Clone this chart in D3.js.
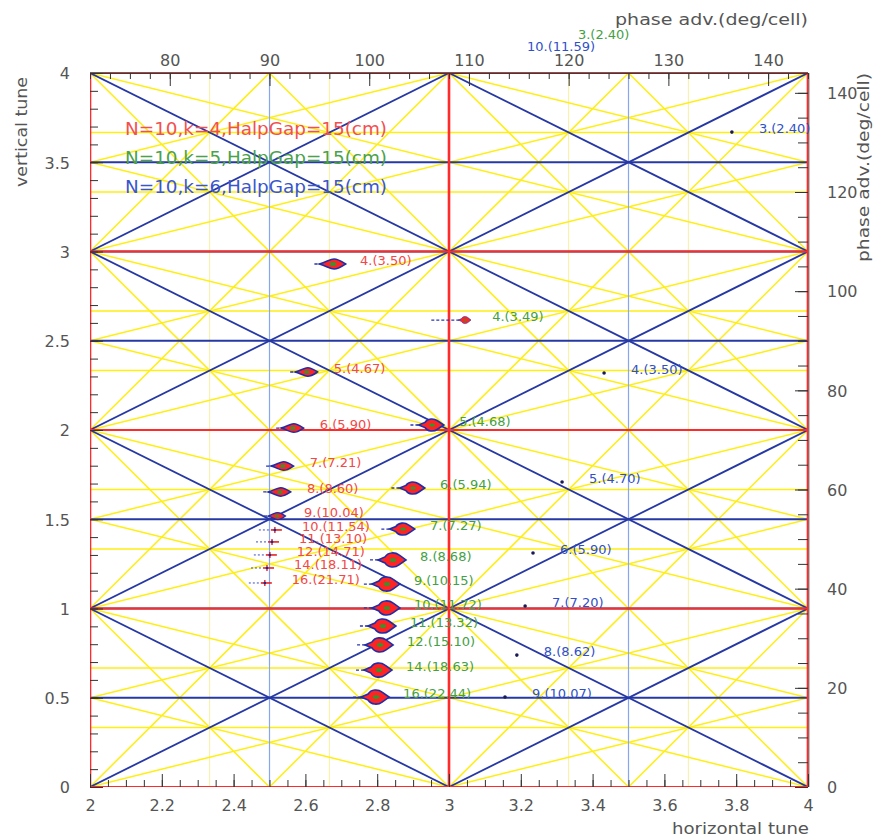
<!DOCTYPE html>
<html><head><meta charset="utf-8">
<script src="https://cdn.jsdelivr.net/npm/d3@7"></script>
<style>body{margin:0;background:#fff;} svg{display:block;}</style>
</head><body><svg id="c" width="874" height="839"></svg>
<script>
// ---------------- data ----------------
const xTickValues = [2, 2.2, 2.4, 2.6, 2.8, 3, 3.2, 3.4, 3.6, 3.8, 4];
const yTickValues = [0, 0.5, 1, 1.5, 2, 2.5, 3, 3.5, 4];
const topTickValues = [80, 90, 100, 110, 120, 130, 140];
const rightTickValues = [0, 20, 40, 60, 80, 100, 120, 140];

const legendLabels = ["N=10,k=4,HalpGap=15(cm)", "N=10,k=5,HalpGap=15(cm)", "N=10,k=6,HalpGap=15(cm)"];

// k=4 (red)
const k4Labels = ["4.(3.50)","5.(4.67)","6.(5.90)","7.(7.21)","8.(8.60)","9.(10.04)","10.(11.54)","11.(13.10)","12.(14.71)","14.(18.11)","16.(21.71)"];
const k4Qx = [2.677, 2.604, 2.565, 2.537, 2.529, 2.521, 2.515, 2.507, 2.501, 2.493, 2.487];
const k4Qy = [2.930, 2.325, 2.011, 1.798, 1.653, 1.518, 1.440, 1.373, 1.300, 1.227, 1.143];

// k=5 (green)
const k5Labels = ["3.(2.40)","4.(3.49)","5.(4.68)","6.(5.94)","7.(7.27)","8.(8.68)","9.(10.15)","10.(11.72)","11.(13.32)","12.(15.10)","14.(18.63)","16.(22.44)"];
const k5Qx = [3.284, 3.045, 2.953, 2.900, 2.872, 2.844, 2.827, 2.827, 2.816, 2.808, 2.805, 2.797];
const k5Qy = [4.196, 2.616, 2.028, 1.675, 1.445, 1.272, 1.137, 1.003, 0.902, 0.796, 0.655, 0.504];

// k=6 (blue)
const k6Labels = ["3.(2.40)","4.(3.50)","5.(4.70)","6.(5.90)","7.(7.20)","8.(8.62)","9.(10.07)","10.(11.59)"];
const k6Qx = [3.788, 3.432, 3.315, 3.234, 3.212, 3.189, 3.156, 3.142];
const k6Qy = [3.669, 2.319, 1.709, 1.311, 1.014, 0.739, 0.504, 4.129];

// resonance lines m*Qx + n*Qy = integer
const order3Coeffs = [[3,0],[0,3],[2,1],[2,-1],[1,2],[1,-2]];
const order2Coeffs = [[2,0],[0,2],[1,1],[1,-1]];
const order1Coeffs = [[1,0],[0,1]];

// ---------------- drawing ----------------
const FONT = "DejaVu Sans, sans-serif";
const svg = d3.select("#c");
const x = d3.scaleLinear().domain([2, 4]).range([90, 808]);
const y = d3.scaleLinear().domain([0, 4]).range([787, 73]);
const xTop = d3.scaleLinear().domain([72, 144]).range([90, 808]);
const yRight = d3.scaleLinear().domain([0, 144]).range([787, 73]);

svg.append("defs").append("clipPath").attr("id", "plotclip")
  .append("rect").attr("x", x(2)).attr("y", y(4)).attr("width", x(4) - x(2)).attr("height", y(0) - y(4));

function segments(m, n) {
  const [x0, x1] = x.domain(), [y0, y1] = y.domain();
  const vals = [[x0,y0],[x0,y1],[x1,y0],[x1,y1]].map(([a, b]) => m * a + n * b);
  const pmin = Math.ceil(Math.min(...vals) - 1e-9), pmax = Math.floor(Math.max(...vals) + 1e-9);
  const out = [];
  for (let p = pmin; p <= pmax; p++) {
    const pts = [];
    if (n !== 0) for (const xx of [x0, x1]) { const yy = (p - m * xx) / n; if (yy >= y0 - 1e-9 && yy <= y1 + 1e-9) pts.push([xx, yy]); }
    if (m !== 0) for (const yy of [y0, y1]) { const xx = (p - n * yy) / m; if (xx >= x0 - 1e-9 && xx <= x1 + 1e-9) pts.push([xx, yy]); }
    const u = [];
    pts.forEach(q => { if (!u.some(v => Math.abs(v[0]-q[0]) < 1e-9 && Math.abs(v[1]-q[1]) < 1e-9)) u.push(q); });
    if (u.length >= 2) out.push({ m, n, p, a: u[0], b: u[1] });
  }
  return out;
}

function styleFor(order, m, n) {
  if (order === 3) return n === 0 ? { c: "#f7efa0", w: 1 } : { c: "#ffee10", w: 1.5 };
  if (order === 2) return n === 0 ? { c: "#86a6ee", w: 1.2 } : { c: "#2638a4", w: 1.8 };
  return n === 0 ? { c: "#ff2a2a", w: 2.6 } : { c: "#ff2a2a", w: 2 };
}

const gLines = svg.append("g").attr("clip-path", "url(#plotclip)");
function drawFamily(order, coeffs) {
  coeffs.forEach(([m, n]) => {
    const st = styleFor(order, m, n);
    segments(m, n).forEach(s => {
      gLines.append("line")
        .attr("x1", x(s.a[0])).attr("y1", y(s.a[1]))
        .attr("x2", x(s.b[0])).attr("y2", y(s.b[1]))
        .attr("stroke", st.c).attr("stroke-width", st.w);
    });
  });
}
drawFamily(3, [[3,0]]);
drawFamily(3, order3Coeffs.filter(c => !(c[0] === 3 && c[1] === 0)));
drawFamily(2, [[2,0]]);
drawFamily(2, order2Coeffs.filter(c => !(c[0] === 2 && c[1] === 0)));
drawFamily(1, order1Coeffs);

svg.append("line").attr("x1", x(2)).attr("x2", x(4)).attr("y1", y(4)).attr("y2", y(4))
  .attr("stroke", "#4a2222").attr("stroke-width", 1.4);
svg.append("line").attr("x1", x(4)+0.8).attr("x2", x(4)+0.8).attr("y1", y(4)).attr("y2", y(0))
  .attr("stroke", "#7a2020").attr("stroke-width", 1);

// ---------------- axes ----------------
const fmt = d => String(+d.toFixed(2));
function styleAxis(g) {
  g.select(".domain").remove();
  g.selectAll("line").attr("stroke", "#333").attr("stroke-width", 1);
  g.selectAll("text").attr("fill", "#555").attr("font-size", 16).attr("font-family", FONT);
  g.attr("font-family", FONT);
}
svg.append("g").attr("transform", `translate(0,${y(0)})`)
  .call(d3.axisBottom(x).tickValues(d3.range(2, 4.0001, 0.05)).tickSize(-7).tickFormat(""))
  .call(styleAxis);
svg.append("g").attr("transform", `translate(0,${y(0)})`)
  .call(d3.axisBottom(x).tickValues(xTickValues).tickSize(-13).tickFormat(fmt))
  .call(styleAxis)
  .call(g => g.selectAll("text").attr("y", 24).attr("dy", 0));
svg.append("g").attr("transform", `translate(${x(2)},0)`)
  .call(d3.axisLeft(y).tickValues(d3.range(0, 4.0001, 0.1)).tickSize(-8).tickFormat(""))
  .call(styleAxis);
svg.append("g").attr("transform", `translate(${x(2)},0)`)
  .call(d3.axisLeft(y).tickValues(yTickValues).tickSize(-13).tickFormat(fmt))
  .call(styleAxis)
  .call(g => g.selectAll("text").attr("x", -20).attr("dy", "0.36em"));
svg.append("g").attr("transform", `translate(0,${y(4)})`)
  .call(d3.axisTop(xTop).tickValues(d3.range(72, 144.001, 2)).tickSize(-6).tickFormat(""))
  .call(styleAxis);
svg.append("g").attr("transform", `translate(0,${y(4)})`)
  .call(d3.axisTop(xTop).tickValues(topTickValues).tickSize(-13).tickFormat(d => d))
  .call(styleAxis)
  .call(g => g.selectAll("text").attr("y", -7).attr("dy", 0));
svg.append("g").attr("transform", `translate(${x(4)},0)`)
  .call(d3.axisRight(yRight).tickValues(d3.range(0, 144.001, 5)).tickSize(-10).tickFormat(""))
  .call(styleAxis);
svg.append("g").attr("transform", `translate(${x(4)},0)`)
  .call(d3.axisRight(yRight).tickValues(rightTickValues).tickSize(-13).tickFormat(d => d))
  .call(styleAxis)
  .call(g => g.selectAll("text").attr("x", 19).attr("dy", "0.36em"));

const titleAttrs = t => t.attr("fill", "#555").attr("font-family", FONT).attr("font-size", 16).attr("lengthAdjust", "spacingAndGlyphs");
svg.append("text").text("horizontal tune").attr("x", 672).attr("y", 834).attr("textLength", 137).call(titleAttrs);
svg.append("text").text("phase adv.(deg/cell)").attr("x", 615).attr("y", 25).attr("textLength", 193).call(titleAttrs);
svg.append("text").text("vertical tune").attr("transform", "translate(27,187) rotate(-90)").attr("textLength", 110).call(titleAttrs);
svg.append("text").text("phase adv.(deg/cell)").attr("transform", "translate(869,262) rotate(-90)").attr("textLength", 189).call(titleAttrs);

const legendColors = ["#f25050", "#4aa24a", "#3a56cc"];
legendLabels.forEach((t, i) => {
  svg.append("text").text(t).attr("x", 125).attr("y", 135 + i * 29)
    .attr("fill", legendColors[i]).attr("font-family", FONT).attr("font-size", 18)
    .attr("textLength", 262).attr("lengthAdjust", "spacingAndGlyphs");
});

// ---------------- marks ----------------
const gMarks = svg.append("g").attr("clip-path", "url(#plotclip)");
const gLabels = svg.append("g");
const redShape = "M -13,0 C -6,-2 -3,-5 1,-5 C 5,-5 9,-2 12,0 C 9,2 5,5 1,5 C -3,5 -6,2 -13,0 Z";
const greenShape = "M -15,0 L -8,-3 C -5,-8 2,-8 6,-5 L 13,0 L 6,5 C 2,8 -5,8 -8,3 Z";

function blob(px, py, shape, sx, sy, tailLen, strokeW) {
  const g = gMarks.append("g").attr("transform", `translate(${px},${py})`);
  g.append("line").attr("x1", -13 * sx - tailLen).attr("x2", -12 * sx).attr("y1", 0).attr("y2", 0)
    .attr("stroke", "#2a36b0").attr("stroke-width", 1.3).attr("stroke-dasharray", "3,2");
  g.append("path").attr("d", shape).attr("transform", `scale(${sx},${sy})`)
    .attr("fill", "#ff2424").attr("stroke", "#1f2ea8").attr("stroke-width", strokeW).attr("vector-effect", "non-scaling-stroke");
  g.append("ellipse").attr("cx", 0).attr("cy", 0).attr("rx", 3.2 * sx).attr("ry", 1.8 * sy).attr("fill", "#2a9a2a");
}
function tinyMark(px, py) {
  const g = gMarks.append("g").attr("transform", `translate(${px},${py})`);
  g.append("line").attr("x1", -16).attr("x2", -4).attr("y1", 0).attr("y2", 0)
    .attr("stroke", "#3a50c0").attr("stroke-width", 1).attr("stroke-dasharray", "2,2");
  g.append("line").attr("x1", -4).attr("x2", 7).attr("y1", 0).attr("y2", 0).attr("stroke", "#e82020").attr("stroke-width", 1.6);
  g.append("line").attr("x1", 0).attr("x2", 0).attr("y1", -3).attr("y2", 3).attr("stroke", "#e82020").attr("stroke-width", 1.4);
  g.append("circle").attr("cx", 0).attr("cy", 0).attr("r", 1.3).attr("fill", "#1a2a90");
}

function drawSeries(labels, qx, qy, color, kind) {
  labels.forEach((lab, i) => {
    const px = x(qx[i]), py = y(qy[i]);
    const num = parseInt(lab, 10);
    if (kind === "red") {
      if (num <= 8) blob(px, py, redShape, num === 4 ? 1.05 : 0.9, num === 4 ? 1.0 : 0.85, 5, 1.5);
      else if (num <= 9) blob(px, py, redShape, 0.7, 0.7, 4, 1.3);
      else tinyMark(px, py);
    } else if (kind === "green") {
      if (qx[i] > 3) blob(px, py, greenShape, 0.45, 0.5, 28, 0.6);
      else blob(px, py, greenShape, num <= 7 ? 0.9 : 1.0, num <= 7 ? 0.85 : 1.0, 10, 1.6);
    } else {
      gMarks.append("circle").attr("cx", px).attr("cy", py).attr("r", 1.8).attr("fill", "#1a1a55");
    }
    gLabels.append("text").text(lab).attr("x", px + 27).attr("y", py + 1)
      .attr("fill", color).attr("font-family", FONT).attr("font-size", 13);
  });
}
drawSeries(k4Labels, k4Qx, k4Qy, "#f24848", "red");
drawSeries(k5Labels, k5Qx, k5Qy, "#44a044", "green");
drawSeries(k6Labels, k6Qx, k6Qy, "#3050c8", "blue");
</script>
</body></html>
